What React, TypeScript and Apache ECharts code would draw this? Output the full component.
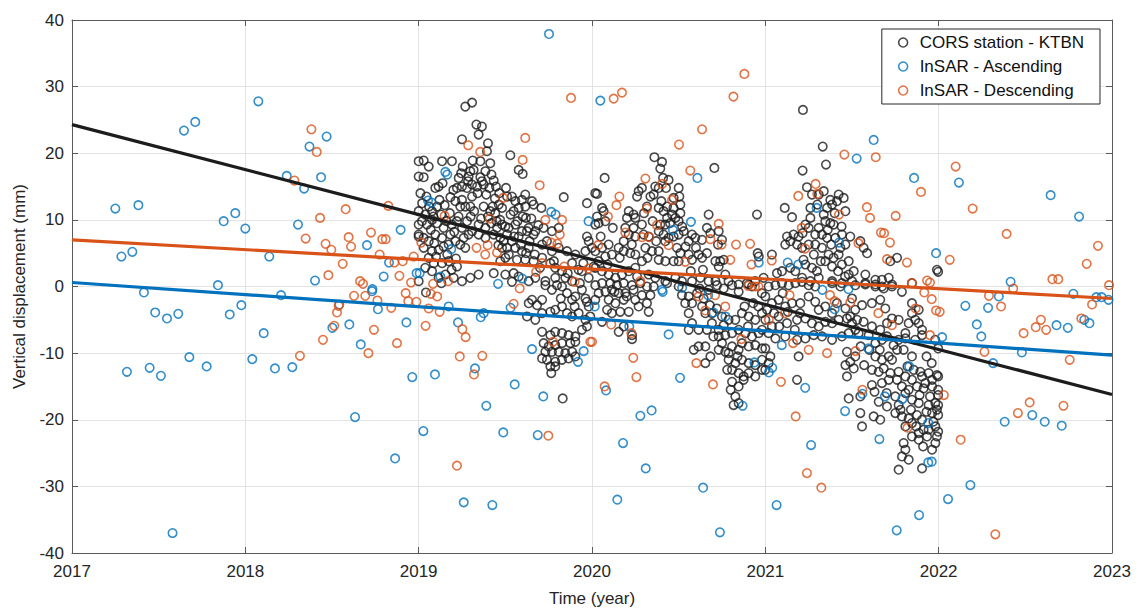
import React, { useEffect, useRef } from "react";
import * as echarts from "echarts";

// ---------- Data (decimal year, vertical displacement in mm) ----------
const xMin = 2017;
const xMax = 2023;
const yMin = -40;
const yMax = 40;

const cors2019: number[][] = [
  [2019.0, 18.8], [2019.0, 16.5], [2019.0, 9.3], [2019.0, 7.5], [2019.0, 0.8],
  [2019.269, 27.0], [2019.308, 27.6], [2019.333, 24.3], [2019.365, 24.0], [2019.346, 22.8], [2019.25, 22.1],
  [2019.4, 21.5], [2019.394, 20.3], [2019.029, 18.9], [2019.058, 18.0], [2019.135, 18.8], [2019.192, 18.8],
  [2019.029, 16.4], [2019.254, 18.0], [2019.312, 18.9], [2019.356, 18.8], [2019.413, 18.5], [2019.529, 19.7],
  [2019.577, 17.5], [2019.6, 16.9], [2019.115, 15.0], [2019.138, 15.5], [2019.096, 14.8], [2019.231, 16.3],
  [2019.288, 16.5], [2019.298, 17.3], [2019.285, 15.8], [2019.317, 17.5], [2019.356, 16.4], [2019.385, 17.3],
  [2019.365, 15.8], [2019.433, 15.9], [2019.221, 14.8], [2019.25, 15.0], [2019.279, 14.8], [2019.308, 15.3],
  [2019.337, 15.0], [2019.375, 15.3], [2019.408, 14.8], [2019.446, 15.0], [2019.504, 14.8], [2019.465, 14.0],
  [2019.51, 13.5], [2019.538, 13.5], [2019.558, 12.8], [2019.596, 13.0], [2019.615, 13.8], [2019.654, 12.8],
  [2019.837, 13.4], [2019.971, 12.5], [2019.0, 11.3], [2019.038, 10.8], [2019.077, 11.3], [2019.106, 12.0],
  [2019.183, 13.4], [2019.212, 12.8], [2019.24, 12.0], [2019.269, 12.0], [2019.298, 12.0], [2019.25, 13.0],
  [2019.308, 13.5], [2019.375, 12.0], [2019.427, 12.0], [2019.462, 12.3], [2019.413, 11.3], [2019.442, 11.0],
  [2019.481, 11.8], [2019.548, 11.3], [2019.577, 11.8], [2019.615, 12.0], [2019.663, 12.3], [2019.708, 11.8],
  [2019.019, 9.8], [2019.048, 9.3], [2019.077, 10.0], [2019.106, 9.5], [2019.144, 8.8], [2019.192, 9.3],
  [2019.221, 9.8], [2019.25, 8.8], [2019.279, 9.8], [2019.308, 8.3], [2019.346, 9.3], [2019.385, 8.8],
  [2019.419, 9.5], [2019.452, 8.8], [2019.481, 9.3], [2019.519, 8.8], [2019.558, 9.3], [2019.596, 8.3],
  [2019.635, 8.8], [2019.619, 10.3], [2019.673, 8.3], [2019.721, 8.8], [2019.769, 8.3], [2019.808, 8.8],
  [2019.0, 7.8], [2019.029, 7.3], [2019.058, 6.8], [2019.096, 7.8], [2019.135, 7.3], [2019.183, 7.8],
  [2019.212, 6.8], [2019.26, 7.3], [2019.288, 7.8], [2019.346, 7.8], [2019.385, 7.3], [2019.433, 7.8],
  [2019.471, 7.3], [2019.51, 7.8], [2019.538, 6.8], [2019.577, 7.5], [2019.625, 8.3], [2019.663, 7.8],
  [2019.712, 6.3], [2019.769, 5.3], [2019.808, 5.8], [2019.856, 5.3], [2019.904, 4.8], [2019.962, 5.3],
  [2019.981, 6.8], [2019.971, 7.5], [2019.029, 5.8], [2019.077, 5.3], [2019.115, 5.5], [2019.144, 6.0],
  [2019.173, 6.3], [2019.24, 6.3], [2019.269, 5.8], [2019.481, 5.8], [2019.51, 5.8], [2019.558, 5.8],
  [2019.596, 5.3], [2019.635, 5.8], [2019.058, 4.3], [2019.087, 3.5], [2019.135, 3.5], [2019.173, 3.8],
  [2019.221, 3.0], [2019.471, 3.8], [2019.5, 4.3], [2019.567, 4.0], [2019.615, 4.0], [2019.663, 3.8],
  [2019.712, 4.3], [2019.76, 3.5], [2019.788, 2.8], [2019.827, 2.3], [2019.885, 3.5], [2019.923, 2.5],
  [2019.038, 2.8], [2019.077, 2.3], [2019.115, 1.3], [2019.154, 1.8], [2019.202, 1.3], [2019.25, 0.8],
  [2019.298, 1.3], [2019.346, 1.8], [2019.433, 2.0], [2019.5, 1.8], [2019.548, 2.0], [2019.577, 1.5],
  [2019.635, 0.8], [2019.673, 1.3], [2019.731, 0.8], [2019.788, 1.3], [2019.846, 1.3], [2019.885, 0.8],
  [2019.942, 2.3], [2019.981, 1.3],
  [2019.042, -0.9], [2019.131, 0.5], [2019.538, 0.7], [2019.635, -2.5], [2019.654, -2.0], [2019.683, -2.8],
  [2019.712, -2.0], [2019.731, 0.2], [2019.769, -0.5], [2019.798, 0.2], [2019.827, 0.0], [2019.856, -1.0],
  [2019.885, -2.0], [2019.904, -1.5], [2019.942, -0.5], [2019.962, -1.8], [2019.981, -3.0], [2019.625, -4.5],
  [2019.673, -5.0], [2019.712, -4.0], [2019.76, -3.8], [2019.788, -3.5], [2019.827, -3.0], [2019.856, -4.0],
  [2019.885, -4.5], [2019.923, -4.0], [2019.962, -5.0], [2019.99, -4.5], [2019.712, -6.8], [2019.76, -7.3],
  [2019.788, -6.8], [2019.827, -7.0], [2019.865, -7.3], [2019.904, -7.5], [2019.942, -6.5], [2019.971, -6.0],
  [2019.721, -8.5], [2019.75, -9.0], [2019.788, -8.8], [2019.827, -8.5], [2019.875, -8.5], [2019.904, -8.3],
  [2019.731, -9.8], [2019.769, -9.8], [2019.808, -9.8], [2019.846, -10.0], [2019.885, -9.8], [2019.904, -10.5],
  [2019.712, -10.8], [2019.74, -11.0], [2019.788, -11.3], [2019.827, -11.0], [2019.865, -10.8], [2019.76, -12.0],
  [2019.788, -12.0], [2019.765, -13.0], [2019.831, -16.8],
  [2019.01, 14.0], [2019.02, 12.5], [2019.045, 13.5], [2019.06, 12.0], [2019.07, 8.5], [2019.085, 10.5],
  [2019.09, 6.5], [2019.1, 4.5], [2019.12, 13.0], [2019.13, 10.8], [2019.15, 12.2], [2019.16, 9.8],
  [2019.165, 4.8], [2019.18, 11.0], [2019.19, 2.5], [2019.2, 14.5], [2019.205, 8.2], [2019.215, 4.2],
  [2019.23, 10.5], [2019.245, 17.0], [2019.3, 10.5], [2019.32, 11.3], [2019.34, 14.0], [2019.36, 10.2],
  [2019.39, 13.8], [2019.4, 10.5], [2019.42, 16.8], [2019.44, 13.2], [2019.45, 9.8], [2019.46, 6.2],
  [2019.47, 10.0], [2019.49, 6.8], [2019.5, 9.0], [2019.52, 4.8], [2019.53, 10.8], [2019.55, 7.5],
  [2019.57, 9.8], [2019.59, 6.3], [2019.6, 10.5], [2019.62, 5.0], [2019.64, 6.8], [2019.65, 10.2],
  [2019.67, 4.8], [2019.69, 9.2], [2019.7, 2.8], [2019.74, 6.8], [2019.78, 3.8], [2019.82, -1.8],
  [2019.86, 2.0], [2019.9, -3.0], [2019.93, 0.5], [2019.95, 3.5], [2019.97, -2.3],
];

const cors2020: number[][] = [
  [2020.36, 19.4], [2020.404, 18.7], [2020.394, 17.7], [2020.706, 17.8], [2020.073, 16.3], [2020.019, 14.0],
  [2020.029, 13.9], [2020.41, 16.3], [2020.442, 16.0], [2020.427, 14.8], [2020.385, 14.8], [2020.365, 15.0],
  [2020.356, 13.8], [2020.337, 13.5], [2020.288, 14.8], [2020.269, 14.3], [2020.26, 13.5], [2020.5, 14.8],
  [2020.504, 13.5], [2020.51, 12.3], [2020.471, 13.3], [2020.212, 11.3], [2020.24, 10.8], [2020.202, 10.3],
  [2020.058, 11.8], [2020.067, 11.3], [2020.029, 10.5], [2020.077, 9.8], [2020.038, 9.5], [2020.019, 9.3],
  [2020.317, 12.0], [2020.385, 11.8], [2020.413, 11.3], [2020.433, 12.0], [2020.462, 10.8], [2020.51, 11.0],
  [2020.433, 10.3], [2020.481, 10.3], [2020.5, 9.8], [2020.394, 9.3], [2020.423, 9.3], [2020.25, 10.3],
  [2020.288, 9.3], [2020.24, 8.8], [2020.192, 8.8], [2020.212, 7.8], [2020.25, 7.5], [2020.183, 6.8],
  [2020.298, 7.8], [2020.327, 7.5], [2020.385, 8.3], [2020.413, 7.8], [2020.442, 7.3], [2020.471, 7.5],
  [2020.423, 6.8], [2020.5, 7.8], [2020.529, 8.3], [2020.577, 7.8], [2020.558, 6.8], [2020.596, 7.3],
  [2020.635, 7.0], [2020.673, 10.8], [2020.663, 8.8], [2020.683, 8.0], [2020.731, 8.3], [2020.75, 7.0],
  [2020.727, 6.3], [2020.952, 10.8], [2020.956, 5.0], [2020.962, 4.5], [2020.0, 5.8], [2020.019, 5.3],
  [2020.058, 5.8], [2020.096, 6.3], [2020.115, 4.8], [2020.077, 4.5], [2020.038, 3.8], [2020.154, 5.8],
  [2020.183, 5.3], [2020.221, 5.0], [2020.25, 4.8], [2020.308, 5.8], [2020.346, 5.3], [2020.385, 5.3],
  [2020.385, 4.0], [2020.423, 3.8], [2020.471, 3.8], [2020.51, 5.0], [2020.558, 4.8], [2020.577, 4.0],
  [2020.615, 4.8], [2020.663, 5.0], [2020.635, 4.3], [2020.712, 3.8], [2020.74, 3.8], [2020.76, 4.0],
  [2020.731, 3.0], [2020.5, 3.8], [2020.019, 2.8], [2020.058, 2.3], [2020.096, 1.8], [2020.135, 1.3],
  [2020.173, 1.8], [2020.212, 2.3], [2020.25, 2.8], [2020.288, 3.8], [2020.327, 1.8], [2020.365, 1.3],
  [2020.423, 0.8], [2020.481, 1.3], [2020.519, 0.8], [2020.577, 0.8], [2020.625, 1.3], [2020.673, 0.8],
  [2020.712, 0.8], [2020.769, 1.8], [2020.788, 0.8], [2020.846, 0.3], [2020.904, 0.3], [2020.942, 0.8],
  [2020.99, 1.3],
  [2020.019, 0.2], [2020.058, 0.5], [2020.106, 0.5], [2020.144, 0.2], [2020.183, 0.5], [2020.231, 0.2],
  [2020.279, 0.5], [2020.317, 0.0], [2020.356, 0.0], [2020.038, -1.0], [2020.077, -0.8], [2020.115, -0.5],
  [2020.154, -1.0], [2020.192, -1.0], [2020.24, -0.5], [2020.288, -1.3], [2020.337, -1.3], [2020.019, -2.0],
  [2020.096, -2.0], [2020.135, -2.5], [2020.183, -2.0], [2020.25, -2.0], [2020.317, -2.5], [2020.087, -3.5],
  [2020.115, -4.0], [2020.163, -3.8], [2020.212, -3.8], [2020.269, -3.0], [2020.327, -3.8], [2020.058, -5.3],
  [2020.154, -6.8], [2020.183, -6.0], [2020.231, -7.3], [2020.231, -7.9], [2020.433, 0.5], [2020.5, 0.0],
  [2020.519, -1.3], [2020.558, -1.5], [2020.538, -2.5], [2020.577, -2.5], [2020.606, -1.0], [2020.644, -1.8],
  [2020.673, -0.5], [2020.721, 0.2], [2020.76, -0.3], [2020.808, 0.2], [2020.846, -0.8], [2020.894, 0.5],
  [2020.923, 0.0], [2020.635, -3.0], [2020.654, -4.0], [2020.692, -4.0], [2020.75, -4.5], [2020.558, -4.0],
  [2020.577, -5.5], [2020.615, -6.5], [2020.663, -6.5], [2020.692, -5.5], [2020.731, -6.5], [2020.76, -5.8],
  [2020.788, -5.0], [2020.827, -5.0], [2020.865, -4.0], [2020.904, -4.5], [2020.942, -5.0], [2020.981, -4.0],
  [2020.558, -6.5], [2020.731, -7.5], [2020.769, -7.3], [2020.808, -7.0], [2020.846, -6.5], [2020.885, -7.0],
  [2020.923, -7.5], [2020.962, -7.0], [2020.981, -6.5], [2020.587, -9.5], [2020.615, -9.0], [2020.654, -9.0],
  [2020.683, -10.5], [2020.654, -11.5], [2020.731, -9.5], [2020.769, -9.8], [2020.788, -10.0], [2020.808, -9.0],
  [2020.846, -9.5], [2020.865, -8.5], [2020.904, -9.0], [2020.942, -8.8], [2020.981, -9.3], [2020.788, -11.0],
  [2020.827, -11.5], [2020.865, -11.0], [2020.904, -11.5], [2020.942, -11.8], [2020.981, -11.0], [2020.808, -12.5],
  [2020.846, -13.0], [2020.875, -13.5], [2020.904, -13.0], [2020.942, -13.5], [2020.981, -12.5], [2020.808, -14.3],
  [2020.846, -15.0], [2020.875, -14.0], [2020.827, -16.5], [2020.817, -17.8], [2020.846, -17.5],
  [2020.01, 3.0], [2020.05, 7.5], [2020.09, 3.3], [2020.12, 8.8], [2020.13, -0.8], [2020.16, 4.3],
  [2020.2, -1.5], [2020.23, 6.3], [2020.26, 1.5], [2020.3, 11.0], [2020.32, 4.3], [2020.35, 9.8],
  [2020.37, 6.8], [2020.4, 12.8], [2020.45, 9.5], [2020.47, 11.8], [2020.49, 5.8], [2020.52, 9.0],
  [2020.54, 6.0], [2020.57, 2.3], [2020.6, 5.8], [2020.62, -0.3], [2020.64, 2.5], [2020.68, -2.8],
  [2020.7, -7.5], [2020.72, -3.3], [2020.75, -8.5], [2020.78, -12.5], [2020.8, -15.5], [2020.84, -10.5],
  [2020.88, -3.0], [2020.9, -6.0], [2020.93, -2.5], [2020.96, -3.0], [2020.98, -1.0],
];

const cors2021: number[][] = [
  [2021.217, 26.5], [2021.331, 21.0], [2021.35, 18.3], [2021.215, 17.4], [2021.24, 14.9], [2021.269, 13.8],
  [2021.337, 14.3], [2021.308, 13.8], [2021.375, 13.0], [2021.423, 13.8], [2021.452, 13.3], [2021.413, 12.8],
  [2021.385, 12.3], [2021.356, 11.8], [2021.337, 10.8], [2021.375, 9.5], [2021.394, 9.3], [2021.112, 11.8],
  [2021.154, 10.4], [2021.26, 11.8], [2021.462, 11.3], [2021.231, 9.3], [2021.25, 8.8], [2021.215, 8.0],
  [2021.308, 8.8], [2021.346, 9.8], [2021.288, 7.8], [2021.327, 7.8], [2021.356, 7.3], [2021.404, 7.3],
  [2021.442, 7.8], [2021.49, 7.5], [2021.462, 6.3], [2021.433, 5.8], [2021.125, 7.5], [2021.163, 7.8],
  [2021.192, 7.5], [2021.144, 6.8], [2021.115, 6.3], [2021.183, 6.3], [2021.212, 5.8], [2021.25, 6.3],
  [2021.288, 6.3], [2021.327, 5.8], [2021.365, 4.8], [2021.394, 4.3], [2021.423, 4.8], [2021.567, 5.8],
  [2021.587, 5.0], [2021.548, 6.8], [2021.038, 4.8], [2021.067, 2.0], [2021.096, 2.3], [2021.144, 2.8],
  [2021.173, 2.3], [2021.231, 3.3], [2021.269, 2.8], [2021.298, 2.3], [2021.346, 3.8], [2021.385, 3.0],
  [2021.442, 3.3], [2021.481, 3.8], [2021.51, 2.3], [2021.481, 1.8], [2021.76, 4.3], [2021.721, 3.8],
  [2021.99, 2.5], [2021.577, 1.8], [2021.635, 1.0], [2021.673, 1.0], [2021.712, 1.3], [2021.212, 1.3],
  [2021.26, 0.8], [2021.308, 1.3], [2021.385, 0.8], [2021.442, 0.5], [2021.5, 0.8], [2021.577, 0.3],
  [2021.635, 0.3], [2021.673, 0.0], [2021.731, 0.3],
  [2021.019, 0.0], [2021.058, 0.2], [2021.096, 0.5], [2021.135, 0.2], [2021.173, 0.5], [2021.212, 0.7],
  [2021.25, 0.2], [2021.288, 0.0], [2021.385, 0.5], [2021.433, 0.0], [2021.519, 0.2], [2021.577, 0.5],
  [2021.635, 0.0], [2021.683, -0.3], [2021.731, 0.0], [2021.788, -0.8], [2021.846, 0.5], [2021.0, -1.5],
  [2021.038, -2.5], [2021.077, -2.0], [2021.115, -3.0], [2021.154, -2.5], [2021.202, -2.5], [2021.25, -1.5],
  [2021.288, -2.3], [2021.308, -3.5], [2021.346, -3.0], [2021.385, -4.0], [2021.413, -2.5], [2021.462, -3.3],
  [2021.49, -4.5], [2021.519, -3.5], [2021.558, -2.8], [2021.615, -2.5], [2021.663, -2.0], [2021.692, -3.3],
  [2021.0, -5.0], [2021.038, -6.0], [2021.077, -4.5], [2021.125, -5.5], [2021.183, -5.0], [2021.231, -4.8],
  [2021.269, -5.5], [2021.308, -6.0], [2021.346, -5.3], [2021.385, -5.5], [2021.423, -5.0], [2021.471, -4.8],
  [2021.5, -5.5], [2021.529, -5.0], [2021.567, -5.3], [2021.615, -6.0], [2021.663, -6.5], [2021.702, -5.5],
  [2021.731, -4.8], [2021.769, -5.0], [2021.808, -7.0], [2021.846, -4.0], [2021.885, -5.5], [2021.904, -6.5],
  [2021.846, -2.5], [2021.885, -3.5], [2021.865, -5.0], [2021.827, -5.5], [2021.019, -7.0], [2021.058, -7.8],
  [2021.115, -7.5], [2021.183, -8.0], [2021.231, -7.8], [2021.279, -7.3], [2021.327, -7.5], [2021.385, -8.0],
  [2021.442, -7.5], [2021.481, -7.0], [2021.538, -7.0], [2021.596, -7.3], [2021.635, -8.5], [2021.673, -8.0],
  [2021.702, -7.5], [2021.769, -8.0], [2021.808, -7.8], [2021.865, -8.0], [2021.904, -7.3], [2021.0, -9.3],
  [2021.029, -10.5], [2021.019, -11.5], [2021.0, -12.5], [2021.192, -10.5], [2021.471, -9.8], [2021.462, -11.8],
  [2021.49, -11.3], [2021.519, -10.5], [2021.51, -12.3], [2021.471, -13.5], [2021.635, -10.5], [2021.673, -11.0],
  [2021.712, -10.5], [2021.731, -11.0], [2021.76, -9.5], [2021.798, -9.5], [2021.846, -10.5], [2021.615, -12.5],
  [2021.654, -12.8], [2021.683, -12.3], [2021.721, -13.0], [2021.769, -12.8], [2021.808, -13.5], [2021.846, -14.0],
  [2021.904, -13.5], [2021.923, -14.5], [2021.962, -14.0], [2021.99, -13.3], [2021.856, -12.5], [2021.894, -12.8],
  [2021.942, -13.0], [2021.183, -14.0], [2021.615, -14.8], [2021.673, -14.5], [2021.712, -14.0], [2021.76, -14.0],
  [2021.788, -15.0], [2021.827, -15.5], [2021.875, -15.0], [2021.913, -15.3], [2021.962, -15.0], [2021.997, -15.5],
  [2021.481, -16.8], [2021.548, -16.5], [2021.654, -17.3], [2021.702, -18.0], [2021.75, -16.5], [2021.769, -17.8],
  [2021.808, -16.0], [2021.846, -17.0], [2021.885, -17.5], [2021.942, -17.8], [2021.981, -17.5], [2021.548, -19.0],
  [2021.625, -19.5], [2021.663, -20.0], [2021.75, -19.0], [2021.788, -19.5], [2021.827, -19.8], [2021.875, -19.3],
  [2021.904, -20.0], [2021.962, -19.0], [2021.99, -18.5], [2021.558, -21.0], [2021.808, -21.0], [2021.846, -20.5],
  [2021.885, -22.0], [2021.913, -21.5], [2021.942, -21.5], [2021.981, -21.0], [2021.798, -23.5], [2021.808, -24.5],
  [2021.846, -22.5], [2021.885, -23.0], [2021.933, -22.5], [2021.981, -23.5], [2021.962, -24.5], [2021.788, -25.5],
  [2021.827, -26.0], [2021.904, -27.3], [2021.769, -27.5],
  [2021.997, 2.2], [2021.997, -9.3], [2021.997, -13.5], [2021.997, -16.3], [2021.997, -17.8], [2021.997, -19.3],
  [2021.997, -21.8],
  [2021.01, -3.5], [2021.05, -4.0], [2021.08, -6.0], [2021.1, -1.0], [2021.13, -3.8], [2021.17, -6.5],
  [2021.2, -4.0], [2021.22, 4.0], [2021.26, 10.3], [2021.28, 4.8], [2021.3, 12.3], [2021.32, 3.8],
  [2021.36, 8.5], [2021.38, 6.3], [2021.4, 11.0], [2021.42, 2.3], [2021.44, 9.0], [2021.46, 1.5],
  [2021.5, -1.8], [2021.52, -6.5], [2021.55, -9.0], [2021.57, -11.8], [2021.6, -9.5], [2021.63, -15.8],
  [2021.66, -9.5], [2021.7, -16.0], [2021.74, -8.8], [2021.78, -18.5], [2021.82, -12.0], [2021.84, -18.5],
  [2021.87, -21.0], [2021.89, -16.3], [2021.91, -24.0], [2021.93, -18.8], [2021.95, -16.5], [2021.97, -20.3],
  [2021.99, -22.5], [2021.93, -10.5], [2021.96, -11.5], [2021.98, -8.0],
];

const ascending: number[][] = [
  [2017.25, 11.7], [2017.383, 12.2], [2017.646, 23.4], [2017.711, 24.7], [2017.875, 9.8], [2017.942, 11.0],
  [2017.285, 4.5], [2017.348, 5.2], [2017.842, 0.2], [2017.415, -0.9], [2017.48, -3.9], [2017.548, -4.8],
  [2017.613, -4.1], [2017.91, -4.2], [2017.977, -2.8], [2017.317, -12.8], [2017.448, -12.2], [2017.513, -13.4],
  [2017.677, -10.6], [2017.777, -12.0], [2017.58, -37.0],
  [2018.0, 8.7], [2018.075, 27.8], [2018.469, 22.5], [2018.37, 21.0], [2018.239, 16.6], [2018.339, 14.7],
  [2018.437, 16.4], [2018.304, 9.3], [2018.702, 6.2], [2018.896, 8.5], [2018.138, 4.5], [2018.829, 3.6],
  [2018.402, 0.9], [2018.798, 1.5], [2018.733, -0.4], [2018.988, 2.0], [2018.206, -1.3], [2018.731, -0.7],
  [2018.765, -3.4], [2018.542, -2.7], [2018.6, -5.7], [2018.502, -6.2], [2018.929, -5.4], [2018.106, -7.0],
  [2018.666, -8.7], [2018.04, -10.9], [2018.171, -12.3], [2018.271, -12.1], [2018.963, -13.6], [2018.633, -19.6],
  [2018.864, -25.8],
  [2019.027, -21.7], [2019.752, 37.9], [2019.154, 17.2], [2019.165, 16.8], [2019.054, 12.9], [2019.075, 12.6],
  [2019.765, 11.2], [2019.79, 10.8], [2019.98, 9.8], [2019.188, 5.6], [2019.006, 2.0], [2019.125, 1.5],
  [2019.458, 0.4], [2019.598, 1.2], [2019.173, -3.0], [2019.53, -3.2], [2019.358, -4.6], [2019.375, -4.0],
  [2019.227, -5.4], [2019.325, -12.3], [2019.094, -13.2], [2019.554, -14.7], [2019.39, -17.9], [2019.719, -16.5],
  [2019.654, -9.4], [2019.952, -9.7], [2019.919, -11.3], [2019.488, -21.9], [2019.687, -22.3], [2019.26, -32.4],
  [2019.425, -32.8],
  [2020.048, 27.9], [2020.608, 16.3], [2020.571, 9.7], [2020.467, 8.5], [2020.962, 3.6], [2020.404, -0.5],
  [2020.52, -0.2], [2020.408, -0.8], [2020.016, -3.0], [2020.215, -6.0], [2020.442, -7.2], [2020.508, -13.7],
  [2020.081, -15.6], [2020.279, -19.4], [2020.344, -18.6], [2020.179, -23.5], [2020.31, -27.3], [2020.641, -30.2],
  [2020.146, -32.0], [2020.738, -36.9], [2020.869, -17.9], [2020.937, -11.4], [2020.77, -4.5], [2020.67, -1.3],
  [2020.7, -3.9],
  [2021.625, 22.0], [2021.527, 19.2], [2021.858, 16.3], [2021.296, 11.8], [2021.425, 6.6], [2021.985, 5.0],
  [2021.129, 3.6], [2021.19, 3.3], [2021.329, -0.5], [2021.48, -0.4], [2021.4, -3.4], [2021.095, -8.8],
  [2021.04, -12.2], [2021.02, -12.9], [2021.594, -9.3], [2021.23, -15.2], [2021.56, -16.1], [2021.69, -16.5],
  [2021.79, -16.9], [2021.83, -12.0], [2021.46, -18.7], [2021.94, -20.5], [2021.658, -22.9], [2021.264, -23.8],
  [2021.065, -32.8], [2021.887, -34.3], [2021.758, -36.6], [2021.94, -26.4], [2021.96, -26.3],
  [2022.117, 15.6], [2022.646, 13.7], [2022.81, 10.5], [2022.415, 0.7], [2022.347, -1.5], [2022.154, -2.9],
  [2022.285, -3.2], [2022.777, -1.1], [2022.91, -1.6], [2022.94, -1.6], [2022.98, -2.0], [2022.84, -5.0],
  [2022.87, -5.5], [2022.68, -5.8], [2022.745, -6.2], [2022.22, -5.7], [2022.246, -7.5], [2022.02, -7.6],
  [2022.314, -11.5], [2022.48, -9.9], [2022.54, -19.3], [2022.381, -20.3], [2022.612, -20.3], [2022.71, -20.9],
  [2022.183, -29.8], [2022.054, -31.9],
];

const descending: number[][] = [
  [2018.381, 23.6], [2018.412, 20.2], [2018.283, 15.9], [2018.579, 11.6], [2018.825, 12.1], [2018.431, 10.3],
  [2018.348, 7.2], [2018.463, 6.4], [2018.496, 5.5], [2018.596, 7.4], [2018.61, 6.0], [2018.725, 8.1],
  [2018.79, 7.1], [2018.81, 7.1], [2018.562, 3.4], [2018.775, 4.8], [2018.86, 3.6], [2018.908, 3.8],
  [2018.971, 4.5], [2018.479, 1.7], [2018.889, 1.6], [2018.662, 0.8], [2018.679, 0.4], [2018.956, 0.6],
  [2018.627, -1.4], [2018.692, -1.4], [2018.762, -2.1], [2018.842, -3.2], [2018.925, -1.0], [2018.94, -2.2],
  [2018.987, -2.3], [2018.538, -2.9], [2018.529, -3.9], [2018.513, -5.9], [2018.742, -6.5], [2018.448, -8.0],
  [2018.71, -10.0], [2018.875, -8.5], [2018.315, -10.4],
  [2019.879, 28.3], [2019.615, 22.3], [2019.286, 21.2], [2019.355, 20.2], [2019.6, 19.0], [2019.698, 15.2],
  [2019.487, 13.3], [2019.15, 10.6], [2019.41, 10.2], [2019.731, 10.0], [2019.827, 10.0], [2019.814, 7.8],
  [2019.765, 6.6], [2019.8, 6.4], [2019.015, 6.6], [2019.334, 5.8], [2019.398, 6.2], [2019.384, 4.8],
  [2019.452, 5.1], [2019.712, 3.5], [2019.84, 3.0], [2019.98, 2.7], [2019.17, 0.8], [2019.678, 2.2],
  [2019.9, 0.7], [2019.083, 0.4], [2019.07, -1.1], [2019.107, -1.5], [2019.058, -3.3], [2019.121, -3.8],
  [2019.04, -5.9], [2019.583, -0.3], [2019.548, -2.6], [2019.252, -6.4], [2019.271, -7.6], [2019.237, -10.5],
  [2019.367, -10.4], [2019.319, -13.2], [2019.99, -8.3], [2019.775, -8.3], [2019.748, -22.4], [2019.221, -26.9],
  [2020.879, 31.9], [2020.816, 28.5], [2020.125, 28.2], [2020.173, 29.1], [2020.635, 23.6], [2020.502, 21.3],
  [2020.567, 17.4], [2020.308, 16.2], [2020.158, 13.5], [2020.141, 12.2], [2020.404, 15.4], [2020.462, 13.0],
  [2020.092, 10.5], [2020.317, 11.7], [2020.375, 9.2], [2020.192, 8.1], [2020.035, 6.2], [2020.289, 7.4],
  [2020.33, 7.4], [2020.731, 9.4], [2020.683, 7.1], [2020.748, 6.3], [2020.831, 6.3], [2020.912, 6.4],
  [2020.442, 6.2], [2020.538, 3.7], [2020.798, 4.0], [2020.92, 3.3], [2020.279, 0.8], [2020.9, 0.1],
  [2020.0, -8.3], [2020.111, -5.7], [2020.227, -7.0], [2020.238, -10.7], [2020.256, -13.6], [2020.602, -11.5],
  [2020.698, -14.7], [2020.073, -15.0], [2020.862, -7.9], [2020.71, -1.3], [2020.654, -3.6], [2020.769, -3.0],
  [2020.615, -1.5], [2020.94, 0.0], [2020.96, 0.0],
  [2021.456, 19.8], [2021.637, 19.4], [2021.898, 14.2], [2021.19, 13.6], [2021.29, 15.4], [2021.3, 13.9],
  [2021.586, 11.9], [2021.604, 10.3], [2021.752, 10.6], [2021.425, 10.8], [2021.667, 8.1], [2021.685, 8.0],
  [2021.719, 6.6], [2021.537, 6.5], [2021.21, 8.8], [2021.23, 5.7], [2021.702, 4.1], [2021.817, 3.6],
  [2021.933, 0.9], [2021.845, 0.5], [2021.037, 3.9], [2021.95, 0.6], [2021.917, -0.9], [2021.96, -1.9],
  [2021.985, -3.6], [2021.867, -3.3], [2021.373, -1.3], [2021.4, -2.2], [2021.49, -2.4], [2021.652, -4.0],
  [2021.14, -1.3], [2021.113, -4.0], [2021.02, -5.0], [2021.73, -5.8], [2021.95, -7.3], [2021.16, -8.5],
  [2021.25, -9.5], [2021.356, -10.0], [2021.52, -9.7], [2021.09, -14.3], [2021.56, -15.5], [2021.175, -19.5],
  [2021.82, -21.2], [2021.24, -28.0], [2021.323, -30.2],
  [2022.098, 18.0], [2022.196, 11.7], [2022.392, 7.9], [2022.919, 6.1], [2022.854, 3.4], [2022.064, 4.0],
  [2022.656, 1.1], [2022.69, 1.1], [2022.43, -0.3], [2022.983, 0.2], [2022.29, -1.4], [2022.36, -3.0],
  [2022.006, -3.8], [2022.885, -2.7], [2022.823, -4.8], [2022.59, -5.0], [2022.56, -6.1], [2022.62, -6.5],
  [2022.49, -7.0], [2022.264, -9.8], [2022.756, -11.0], [2022.03, -16.3], [2022.525, -17.4], [2022.457, -19.0],
  [2022.72, -17.9], [2022.127, -23.0], [2022.327, -37.2],
];

// Linear trend lines (end points of each fit)
const corsTrend: number[][] = [[2017, 24.3], [2023, -16.2]];
const ascTrend: number[][] = [[2017, 0.6], [2023, -10.3]];
const descTrend: number[][] = [[2017, 7.0], [2023, -1.8]];

const seriesNames = ["CORS station - KTBN", "InSAR - Ascending", "InSAR - Descending"];
const xTitle = "Time (year)";
const yTitle = "Vertical displacement (mm)";

const C_BLACK = "#1c1c1c";
const C_BLUE = "#0072BD";
const C_ORANGE = "#D95319";
const FONT = "Liberation Sans, Arial, Helvetica, sans-serif";

export default function App() {
  const ref = useRef<HTMLDivElement>(null);

  useEffect(() => {
    if (!ref.current) return;
    const chart = echarts.init(ref.current, null, { renderer: "svg" });

    const scatterStyle = (c: string) => ({
      color: "rgba(0,0,0,0)",
      borderColor: c,
      borderWidth: 1.6,
    });

    const axisCommon = {
      type: "value" as const,
      axisLine: { show: true, onZero: false, lineStyle: { color: "#5a5a5a", width: 1 } },
      axisTick: { show: true, inside: true, length: 6, lineStyle: { color: "#5a5a5a" } },
    };

    chart.setOption({
      animation: false,
      backgroundColor: "#ffffff",
      textStyle: { fontFamily: FONT },
      grid: { left: 72, right: 35, top: 20, bottom: 61, containLabel: false },
      legend: {
        data: seriesNames,
        orient: "vertical",
        right: 47,
        top: 29,
        backgroundColor: "#ffffff",
        borderColor: "#262626",
        borderWidth: 1,
        borderRadius: 0,
        padding: [5, 16, 5, 16],
        itemGap: 7,
        itemWidth: 9,
        itemHeight: 9,
        icon: "circle",
        itemStyle: { borderWidth: 1.6 },
        textStyle: { fontSize: 17, color: "#111", fontFamily: FONT, padding: [0, 0, 0, 7] },
        selectedMode: false,
      },
      xAxis: [
        {
          ...axisCommon,
          min: xMin,
          max: xMax,
          interval: 1,
          position: "bottom",
          name: xTitle,
          nameLocation: "middle",
          nameGap: 37,
          nameTextStyle: { fontSize: 17, color: "#262626", fontFamily: FONT },
          axisLabel: { fontSize: 17, color: "#262626", margin: 10, fontFamily: FONT, formatter: (v: number) => String(v) },
          splitLine: { show: true, lineStyle: { color: "#e3e3e3", width: 1 } },
        },
        {
          ...axisCommon,
          min: xMin,
          max: xMax,
          interval: 1,
          position: "top",
          axisLabel: { show: false },
          splitLine: { show: false },
        },
      ],
      yAxis: [
        {
          ...axisCommon,
          min: yMin,
          max: yMax,
          interval: 10,
          position: "left",
          name: yTitle,
          nameLocation: "middle",
          nameGap: 44,
          nameRotate: 90,
          nameTextStyle: { fontSize: 17, color: "#262626", fontFamily: FONT },
          axisLabel: { fontSize: 17, color: "#262626", margin: 8, fontFamily: FONT },
          splitLine: { show: true, lineStyle: { color: "#e3e3e3", width: 1 } },
        },
        {
          ...axisCommon,
          min: yMin,
          max: yMax,
          interval: 10,
          position: "right",
          axisLabel: { show: false },
          splitLine: { show: false },
        },
      ],
      series: [
        {
          name: seriesNames[0],
          type: "scatter",
          data: [...cors2019, ...cors2020, ...cors2021],
          symbol: "circle",
          symbolSize: 8.5,
          itemStyle: scatterStyle(C_BLACK),
          silent: true,
          z: 2,
        },
        {
          name: seriesNames[1],
          type: "scatter",
          data: ascending,
          symbol: "circle",
          symbolSize: 8.5,
          itemStyle: scatterStyle(C_BLUE),
          silent: true,
          z: 3,
        },
        {
          name: seriesNames[2],
          type: "scatter",
          data: descending,
          symbol: "circle",
          symbolSize: 8.5,
          itemStyle: scatterStyle(C_ORANGE),
          silent: true,
          z: 4,
        },
        {
          name: "CORS trend",
          type: "line",
          data: corsTrend,
          symbol: "none",
          lineStyle: { color: C_BLACK, width: 3.2 },
          silent: true,
          z: 6,
        },
        {
          name: "Ascending trend",
          type: "line",
          data: ascTrend,
          symbol: "none",
          lineStyle: { color: C_BLUE, width: 3.2 },
          silent: true,
          z: 6,
        },
        {
          name: "Descending trend",
          type: "line",
          data: descTrend,
          symbol: "none",
          lineStyle: { color: C_ORANGE, width: 3.2 },
          silent: true,
          z: 6,
        },
      ],
    });

    return () => chart.dispose();
  }, []);

  return (
    <div
      ref={ref}
      style={{ position: "fixed", left: 0, top: 0, width: 1147, height: 614, background: "#fff" }}
    />
  );
}
